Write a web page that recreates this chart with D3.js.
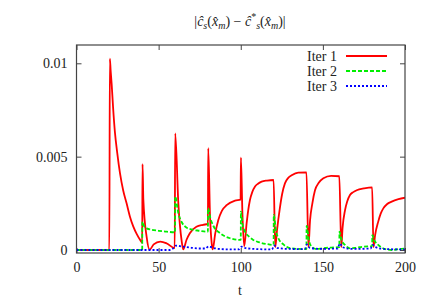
<!DOCTYPE html>
<html>
<head>
<meta charset="utf-8" />
<style>
  body { margin: 0; background: #fff; }
  text { font-family: "Liberation Serif", "DejaVu Serif", serif; fill: #222; }
</style>
</head>
<body>
<div id="chart"></div>
<script src="https://d3js.org/d3.v7.min.js"></script>
<script>
// values in units of 1e-3
const iter1 = [[0,0],[20,0],[20.3,10.25],[20.8,9.6],[21.4,8.9],[22.3,7.6],[23.4,6.3],[24.8,5.2],[26.5,4.1],[28.4,3.2],
  [30.5,2.5],[32.5,1.8],[34.6,1.25],[36.7,0.85],[38.7,0.55],[40,0.4],
  [40.2,4.6],[40.7,2.7],[42.7,0.7],[44.5,0.02],[47,0.3],[51,0.45],[55,0.35],[59.8,0.1],
  [60.1,6.25],[62,2.5],[64,0.5],[65,0.03],[67,0.55],[69,0.9],[73,1.25],[77,1.35],[80,1.4],
  [80.2,5.45],[81.3,1.8],[82.3,0.37],[82.9,0.03],[84.5,0.9],[86.3,1.6],[88.5,2.1],[91.4,2.4],[96.5,2.65],[99.9,2.7],
  [100.1,4.95],[101,2.0],[102.1,0.2],[103.6,1.45],[104.5,2.1],[105.6,2.68],[107,3.1],[108.7,3.4],[110.5,3.55],[112.7,3.66],[116,3.72],[120,3.75],
  [121,0.15],[122,1.0],[123.9,2.3],[125.2,3.0],[126.9,3.57],[128.8,3.85],[131,4.0],[135,4.15],[140,4.16],
  [141.2,0.15],[142.2,1.6],[143.6,2.5],[145.2,3.2],[147.5,3.6],[150.3,3.84],[155,3.97],[160,3.95],
  [161.2,0.15],[162,1.2],[163.5,2.14],[164.8,2.6],[166.5,2.95],[168.5,3.1],[170.6,3.2],[175,3.3],[180,3.36],
  [180.8,0.15],[181.8,0.8],[183.7,1.52],[185.2,1.95],[186.8,2.23],[189,2.45],[191.9,2.59],[196,2.72],[200,2.8]];
const iter2 = [[0,0],[40,0],[40.1,1.52],[41,1.3],[42.7,1.16],[46,1.08],[50,1.03],[55,0.98],[60,0.95],
  [60.1,2.86],[62,1.97],[64,1.5],[67,1.2],[70,1.1],[75,1.03],[80,0.98],
  [80.1,2.23],[81.5,1.7],[83.3,1.3],[87.4,0.9],[93.5,0.63],[100,0.54],
  [100.1,2.05],[101,1.4],[102.6,0.98],[105,0.72],[107.6,0.54],[111,0.42],[115.8,0.32],[120,0.27],
  [120.1,1.88],[121.5,1.0],[122.9,0.63],[126,0.3],[130,0.1],[135,0.06],[140,0.05],
  [140.1,1.29],[141.5,0.5],[143.2,0.18],[146,0.05],[150,0.1],[155,0.13],[160,0.15],
  [160.1,0.98],[161.5,0.5],[163.5,0.27],[166.5,0.09],[170,0.12],[175,0.18],[180,0.21],
  [180.1,0.8],[181.5,0.5],[183.7,0.27],[186,0.12],[189,0.03],[192,0],[196,0.05],[200,0.08]];
const iter3 = [[0,0],[57,0],[59,0.1],[60.5,0.23],[65,0.18],[70,0.12],[75,0.08],[78.5,0.08],[80.5,0.2],[83,0.12],
  [88,0.05],[95,0.03],[99,0.04],[100.5,0.18],[103,0.1],[110,0.05],[119,0.03],[120.3,0.25],[122,0.12],[128,0.06],
  [139,0.05],[140.3,0.3],[142,0.12],[148,0.06],[159,0.08],[160.3,0.35],[162,0.15],[168,0.06],[179,0.08],
  [180.3,0.28],[182,0.15],[188,0.05],[200,0.03]];
const xTicks = [0, 50, 100, 150, 200];
const yTicks = [0, 5, 10];
const yTickLabels = ["0", "0.005", "0.01"];
const seriesNames = ["Iter 1", "Iter 2", "Iter 3"];
const seriesColors = ["#ff0000", "#00ee00", "#0000ff"];
const seriesDash = [null, "4,2", "2,2"];

let width = 432, height = 302;
let mLeft = 76.5, mRight = 405, mTop = 45, mBottom = 253;

let svg = d3.select("#chart").append("svg")
  .attr("width", width).attr("height", height);

let x = d3.scaleLinear().domain([0, 200]).range([mLeft, mRight]);
let y = d3.scaleLinear().domain([-0.16, 10.98]).range([mBottom, mTop]);

svg.append("clipPath").attr("id", "clip")
  .append("rect").attr("x", mLeft).attr("y", mTop)
  .attr("width", mRight - mLeft).attr("height", mBottom - mTop);

// axes with inward ticks on all four sides
let fmt = (d, i) => yTickLabels[i];
let axB = svg.append("g").attr("transform", `translate(0,${mBottom})`)
  .call(d3.axisBottom(x).tickValues(xTicks).tickSizeInner(-5).tickSizeOuter(0).tickPadding(9));
let axT = svg.append("g").attr("transform", `translate(0,${mTop})`)
  .call(d3.axisTop(x).tickValues(xTicks).tickSizeInner(-5).tickSizeOuter(0).tickFormat(""));
let axL = svg.append("g").attr("transform", `translate(${mLeft},0)`)
  .call(d3.axisLeft(y).tickValues(yTicks).tickSizeInner(-5).tickSizeOuter(0).tickPadding(9).tickFormat(fmt));
let axR = svg.append("g").attr("transform", `translate(${mRight},0)`)
  .call(d3.axisRight(y).tickValues(yTicks).tickSizeInner(-5).tickSizeOuter(0).tickFormat(""));

[axB, axT, axL, axR].forEach(a => {
  a.select(".domain").remove();
  a.selectAll(".tick line").attr("stroke", "#444");
  a.selectAll(".tick text").style("font-family", "Liberation Serif, serif")
    .style("font-size", "14px").attr("fill", "#222");
});

let line = d3.line().x(d => x(d[0])).y(d => y(d[1])).curve(d3.curveMonotoneX);
let plot = svg.append("g").attr("clip-path", "url(#clip)");
[iter1, iter2, iter3].forEach((s, i) => {
  plot.append("path").datum(s)
    .attr("d", line)
    .attr("fill", "none")
    .attr("stroke", seriesColors[i])
    .attr("stroke-width", 1.8)
    .attr("stroke-dasharray", seriesDash[i]);
});

svg.append("rect")
  .attr("x", mLeft).attr("y", mTop)
  .attr("width", mRight - mLeft).attr("height", mBottom - mTop)
  .attr("fill", "none").attr("stroke", "#444").attr("stroke-width", 1.2);

// legend
seriesNames.forEach((n, i) => {
  let ly = 56 + i * 15;
  svg.append("text").attr("x", 337).attr("y", ly + 5)
    .attr("text-anchor", "end").style("font-size", "14px").text(n);
  svg.append("line").attr("x1", 346).attr("x2", 387)
    .attr("y1", ly).attr("y2", ly)
    .attr("stroke", seriesColors[i]).attr("stroke-width", 1.8)
    .attr("stroke-dasharray", seriesDash[i]);
});

// axis label
svg.append("text").attr("x", 240).attr("y", 295)
  .attr("text-anchor", "middle").style("font-size", "14px").text("t");

// title
let title = svg.append("text").attr("x", 240).attr("y", 26)
  .attr("text-anchor", "middle").style("font-size", "14px");
title.append("tspan").text("|");
title.append("tspan").style("font-style", "italic").text("ĉ");
title.append("tspan").style("font-style", "italic").style("font-size", "10px").attr("dy", 3).text("s");
title.append("tspan").attr("dy", -3).text("(");
title.append("tspan").style("font-style", "italic").text("x̂");
title.append("tspan").style("font-style", "italic").style("font-size", "10px").attr("dy", 3).text("m");
title.append("tspan").attr("dy", -3).text(") − ");
title.append("tspan").style("font-style", "italic").text("ĉ");
title.append("tspan").style("font-size", "10px").attr("dy", -6).text("*");
title.append("tspan").style("font-style", "italic").style("font-size", "10px").attr("dy", 9).text("s");
title.append("tspan").attr("dy", -3).text("(");
title.append("tspan").style("font-style", "italic").text("x̂");
title.append("tspan").style("font-style", "italic").style("font-size", "10px").attr("dy", 3).text("m");
title.append("tspan").attr("dy", -3).text(")|");
</script>
</body>
</html>
